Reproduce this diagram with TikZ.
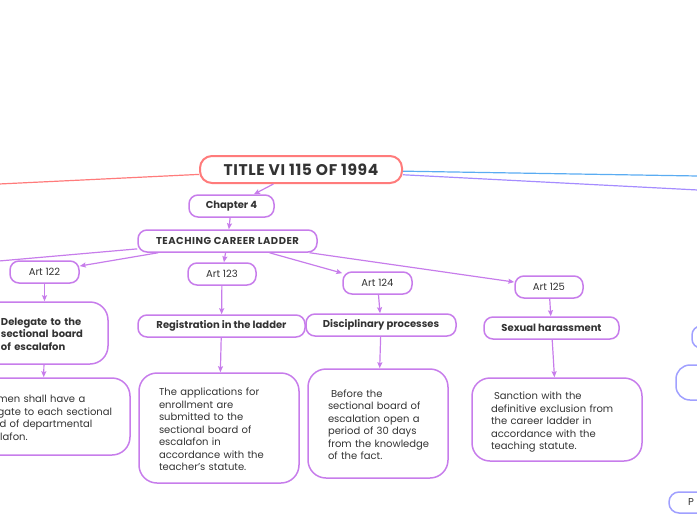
\documentclass[tikz,border=0pt]{standalone}
\usepackage{fontspec}
\setmainfont{Poppins}
\usetikzlibrary{arrows.meta}
\definecolor{pur}{HTML}{C77DEB}
\definecolor{titlered}{HTML}{FF7B7B}
\definecolor{skyblue}{HTML}{5AACF2}
\definecolor{lav}{HTML}{A58CFF}
\definecolor{rbox}{HTML}{A0A0FF}
\definecolor{txt}{HTML}{333333}
\newcommand{\lines}[1]{\raisebox{-2.5pt}[\height][\depth]{\begin{tabular}{@{}l@{}}#1\end{tabular}}}
\begin{document}
\begin{tikzpicture}[x=1pt,y=-1pt,
  every node/.style={font=\fontsize{10}{12.5}\selectfont, text=txt},
  box/.style={draw=pur, line width=1.5pt, rounded corners=9pt, inner sep=0pt, minimum height=22pt},
  tbox/.style={draw=pur, line width=1.5pt, rounded corners=18pt, inner sep=0pt, align=left},
  head/.style={font=\bfseries\fontsize{10}{12.3}\selectfont},
  titlebox/.style={draw=titlered, line width=2pt, rounded corners=12pt, inner sep=0pt,
     font=\bfseries\fontsize{15.5}{17}\selectfont\addfontfeatures{LetterSpace=4}},
  rightbox/.style={draw=rbox, line width=1.5pt, inner sep=0pt},
  conn/.style={draw=pur, line width=1.2pt, -{Stealth[length=6pt,width=5pt,inset=1pt]}},
  plain/.style={line width=1.2pt},
]
\useasboundingbox (0,0) rectangle (697,520);

% main nodes
\node[titlebox, minimum width=202pt, minimum height=27pt] (title) at (301,169.5) {TITLE VI 115 OF 1994};
\node[box, head, minimum width=85pt] (ch4) at (231.5,206) {Chapter 4};
\node[box, font=\bfseries\fontsize{10}{11}\selectfont\addfontfeatures{LetterSpace=5}, minimum width=179pt] (tcl) at (227.5,241) {TEACHING CAREER LADDER};

\node[box, minimum width=69pt] (a122) at (44.5,272) {Art 122};
\node[box, minimum width=68pt] (a123) at (222,274) {Art 123};
\node[box, minimum width=69pt] (a124) at (377.5,283) {Art 124};
\node[box, minimum width=68pt] (a125) at (549,287) {Art 125};

\node[tbox, head, minimum width=127pt, minimum height=62pt, text width=87pt] (del) at (44.5,333)
  {\lines{Delegate to the\\sectional board\\of escalafon}};
\node[box, head, minimum width=167pt] (reg) at (221.5,326) {Registration in the ladder};
\node[box, head, minimum width=150pt] (dis) at (381,325) {Disciplinary processes};
\node[box, head, minimum width=135pt] (sex) at (551.5,328) {Sexual harassment};

\node[tbox, minimum width=174pt, minimum height=77pt, text width=134pt] (delt) at (43,416.5)
  {\lines{Foremen shall have a\\delegate to each sectional\\board of departmental\\escalafon.}};
\node[tbox, minimum width=160pt, minimum height=110pt, text width=120pt] (regt) at (219,428)
  {\lines{The applications for\\enrollment are\\submitted to the\\sectional board of\\escalafon in\\accordance with the\\teacher's statute.}};
\node[tbox, minimum width=140pt, minimum height=109pt, text width=100pt] (dist) at (378,423.5)
  {\lines{\hspace{3pt}Before the\\sectional board of\\escalation open a\\period of 30 days\\from the knowledge\\of the fact.}};
\node[tbox, minimum width=170pt, minimum height=83pt, text width=132pt] (sext) at (557,419.5)
  {\lines{\hspace{3pt}Sanction with the\\definitive exclusion from\\the career ladder in\\accordance with the\\teaching statute.}};

% partial boxes at right edge
\node[rightbox, rounded corners=9pt, minimum width=60pt, minimum height=22pt] (r1) at (722,337) {};
\node[rightbox, rounded corners=14pt, minimum width=60pt, minimum height=35pt] (r2) at (706,382.5) {};
\node[rightbox, rounded corners=10pt, minimum width=80pt, minimum height=21pt, text width=42pt, align=left] (r3) at (709,502.5) {P};

% off-page end points
\coordinate (offRed) at (-1,184);
\coordinate (offBlue) at (698,176);
\coordinate (offLav) at (698,190);
\coordinate (offTcl) at (-1,261);

% connectors
\draw[plain, draw=titlered] (title) -- (offRed);
\draw[plain, draw=lav] (title) -- (offLav);
\draw[plain, draw=skyblue] (title) -- (offBlue);
\draw[plain, draw=pur] (tcl) -- (offTcl);

\draw[conn] (title) -- (ch4);
\draw[conn] (ch4) -- (tcl);
\draw[conn] (tcl) -- (a122);
\draw[conn] (tcl) -- (a123);
\draw[conn] (tcl) -- (a124);
\draw[conn] (tcl) -- (a125);
\draw[conn] (a122) -- (del);
\draw[conn] (del) -- (delt);
\draw[conn] (a123) -- (reg);
\draw[conn] (reg) -- (regt);
\draw[conn] (a124) -- (dis);
\draw[conn] (dis) -- (dist);
\draw[conn] (a125) -- (sex);
\draw[conn] (sex) -- (sext);
\end{tikzpicture}
\end{document}
